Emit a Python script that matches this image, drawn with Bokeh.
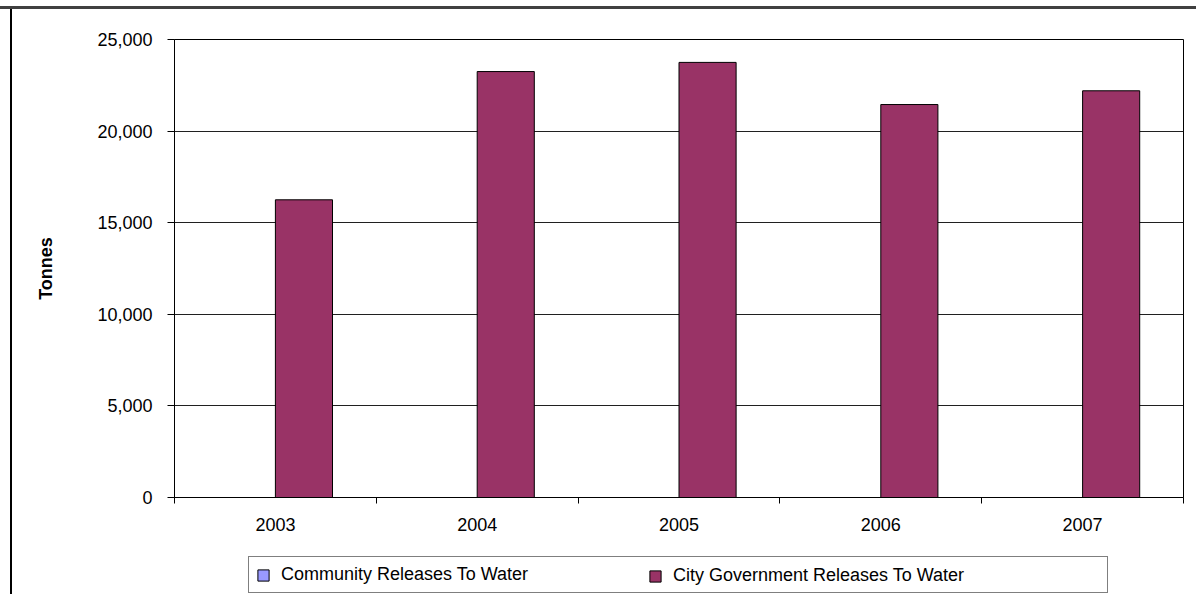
from bokeh.plotting import figure
from bokeh.layouts import column
from bokeh.models import (ColumnDataSource, FixedTicker, NumeralTickFormatter,
                          Legend, LegendItem, Range1d)
from bokeh.transform import dodge
from bokeh.embed import file_html
from bokeh.resources import INLINE

# ---- data ----
years = ["2003", "2004", "2005", "2006", "2007"]
community_releases = [0, 0, 0, 0, 0]
city_gov_releases = [16250, 23250, 23750, 21450, 22200]
y_ticks = [0, 5000, 10000, 15000, 20000, 25000]
series_names = ["Community Releases To Water", "City Government Releases To Water"]
y_label = "Tonnes"

FONT = "Liberation Sans"
PLUM = "#993366"
LAVENDER = "#9999FF"

LEFT_LINE = "inset 10px 0 0 0 white, inset 12px 0 0 0 black"
TOP_LINE = "inset 0 6px 0 0 white, inset 0 9px 0 0 #404040"

centers = [i + 0.5 for i in range(len(years))]
bounds = [i for i in range(len(years) + 1)]

src = ColumnDataSource(dict(center=centers, year=years,
                            community=community_releases, city=city_gov_releases))

# ---------------- main chart ----------------
p = figure(width=1196, height=545,
           x_range=Range1d(0, len(years)), y_range=Range1d(0, 25000),
           output_backend="svg", toolbar_location=None,
           min_border_left=174, min_border_right=13,
           min_border_top=39, min_border_bottom=48)

p.background_fill_color = "white"
p.border_fill_alpha = 0
p.outline_line_color = "black"
p.outline_line_width = 1
p.styles = {"background": "white", "box-shadow": TOP_LINE + ", " + LEFT_LINE}

bw = 0.283
p.vbar(x=dodge("center", -bw / 2, range=p.x_range), top="community", width=bw,
       source=src, fill_color=LAVENDER, line_color="black", line_width=1)
p.vbar(x=dodge("center", bw / 2, range=p.x_range), top="city", width=bw,
       source=src, fill_color=PLUM, line_color="black", line_width=1)

# x axis: labels at category centres, ticks at category boundaries
xa = p.xaxis[0]
xa.ticker = FixedTicker(ticks=centers, minor_ticks=bounds)
xa.major_label_overrides = {c: y for c, y in zip(centers, years)}
xa.major_tick_line_color = None
xa.major_tick_out = 0
xa.major_tick_in = 0
xa.minor_tick_line_color = "black"
xa.minor_tick_out = 6
xa.minor_tick_in = 0
xa.axis_line_color = "black"
xa.major_label_standoff = 14
xa.major_label_text_font = FONT
xa.major_label_text_font_size = "18px"
xa.major_label_text_color = "black"

ya = p.yaxis[0]
ya.ticker = FixedTicker(ticks=y_ticks)
ya.formatter = NumeralTickFormatter(format="0,0")
ya.major_tick_out = 7
ya.major_tick_in = 0
ya.major_tick_line_color = "black"
ya.minor_tick_line_color = None
ya.axis_line_color = "black"
ya.major_label_standoff = 15
ya.major_label_text_font = FONT
ya.major_label_text_font_size = "18px"
ya.major_label_text_color = "black"
ya.axis_label = y_label
ya.axis_label_text_font = FONT
ya.axis_label_text_font_size = "18px"
ya.axis_label_text_font_style = "bold"
ya.axis_label_text_color = "black"
ya.axis_label_standoff = 38

p.xgrid.visible = False
p.ygrid.ticker = FixedTicker(ticks=y_ticks)
p.ygrid.grid_line_color = "#202020"
p.ygrid.grid_line_width = 1

# ---------------- legend strip ----------------
# its frame is aligned with the chart frame by the column layout
q = figure(width=1196, height=49, x_range=Range1d(0, len(years)), y_range=Range1d(0, 25000),
           output_backend="svg", toolbar_location=None,
           x_axis_location=None, y_axis_location=None,
           min_border_left=0, min_border_right=0, min_border_top=0, min_border_bottom=0)
q.grid.visible = False
q.outline_line_color = None
q.background_fill_alpha = 0
q.border_fill_alpha = 0
q.styles = {"background": "white", "box-shadow": LEFT_LINE}

# same series as the chart, hidden here: only their legend swatches are drawn
lc = q.vbar(x="center", top="community", width=bw, source=src,
            fill_color=LAVENDER, line_color="black", line_width=1, visible=False)
lg = q.vbar(x="center", top="city", width=bw, source=src,
            fill_color=PLUM, line_color="black", line_width=1, visible=False)

common = dict(orientation="horizontal", padding=7, glyph_width=14, glyph_height=14,
              label_standoff=11, label_text_font=FONT, label_text_font_size="18px",
              label_text_color="black", margin=0, spacing=0,
              click_policy="none", inactive_fill_alpha=0)
leg1 = Legend(items=[LegendItem(label=series_names[0], renderers=[lc])],
              location=(74, 1), label_width=819,
              border_line_color="black", border_line_width=1,
              background_fill_color="white", background_fill_alpha=1, **common)
leg2 = Legend(items=[LegendItem(label=series_names[1], renderers=[lg])],
              location=(467, 1),
              border_line_alpha=0, background_fill_alpha=0, **common)
q.add_layout(leg1)
q.add_layout(leg2)

layout = column(p, q, spacing=0)
open("out.html", "w").write(file_html(layout, INLINE))
